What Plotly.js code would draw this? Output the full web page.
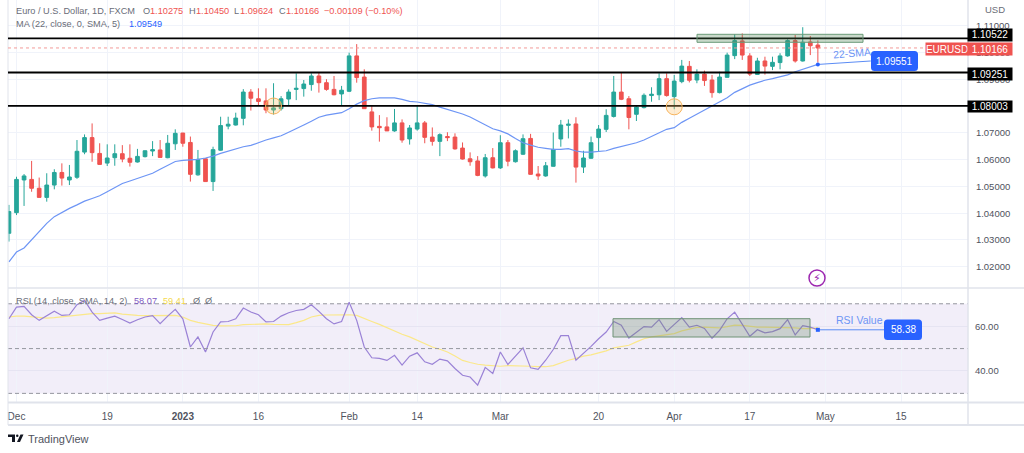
<!DOCTYPE html>
<html><head><meta charset="utf-8">
<script src="https://cdn.plot.ly/plotly-3.0.1.min.js"></script>
<style>html,body{margin:0;padding:0;background:#fff}#c{width:1024px;height:453px}</style>
</head><body><div id="c"></div>
<script>
const opens=[1.0325,1.0402,1.0524,1.0526,1.0493,1.0459,1.0505,1.0552,1.0524,1.0534,1.0628,1.0682,1.0623,1.0587,1.0607,1.0622,1.0605,1.0591,1.0611,1.0632,1.0636,1.0607,1.0659,1.0699,1.0664,1.0543,1.0603,1.0518,1.0635,1.0725,1.0729,1.0754,1.0852,1.0827,1.0819,1.0785,1.0790,1.0826,1.0862,1.0865,1.0880,1.0912,1.0887,1.0862,1.0845,1.0855,1.0987,1.0908,1.0778,1.0724,1.0722,1.0707,1.0737,1.0677,1.0714,1.0737,1.0684,1.0668,1.0686,1.0684,1.0643,1.0603,1.0595,1.0539,1.0607,1.0569,1.0663,1.0592,1.0620,1.0679,1.0546,1.0539,1.0575,1.0677,1.0728,1.0733,1.0572,1.0605,1.0682,1.0713,1.0761,1.0852,1.0827,1.0769,1.0794,1.0839,1.0842,1.0902,1.0835,1.0891,1.0948,1.0897,1.0919,1.0897,1.0850,1.0907,1.0988,1.1043,1.0987,1.0918,1.0968,1.0948,1.0962,1.0987,1.1044,1.0968,1.1039,1.10275];
const highs=[1.0431,1.0536,1.0546,1.0595,1.0533,1.0549,1.0564,1.0586,1.0580,1.0673,1.0694,1.0735,1.0661,1.0657,1.0657,1.0654,1.0657,1.0640,1.0634,1.0669,1.0673,1.0692,1.0713,1.0700,1.0686,1.0636,1.0605,1.0648,1.0760,1.0760,1.0775,1.0863,1.0863,1.0866,1.0866,1.0885,1.0837,1.0862,1.0922,1.0897,1.0922,1.0927,1.0900,1.0912,1.0875,1.0999,1.1031,1.0937,1.0800,1.0766,1.0758,1.0789,1.0750,1.0729,1.0800,1.0744,1.0720,1.0698,1.0702,1.0698,1.0664,1.0627,1.0613,1.0621,1.0643,1.0691,1.0673,1.0638,1.0694,1.0696,1.0576,1.0591,1.0701,1.0748,1.0750,1.0758,1.0633,1.0686,1.0729,1.0788,1.0912,1.0926,1.0837,1.0800,1.0847,1.0870,1.0922,1.0922,1.0916,1.0972,1.0968,1.0937,1.0932,1.0916,1.0928,1.0999,1.1068,1.1071,1.0997,1.0980,1.0984,1.0984,1.0997,1.1049,1.1065,1.1094,1.1061,1.1045];
const lows=[1.0294,1.0393,1.0427,1.0480,1.0459,1.0443,1.0489,1.0503,1.0505,1.0528,1.0620,1.0592,1.0580,1.0576,1.0577,1.0590,1.0574,1.0589,1.0608,1.0613,1.0608,1.0605,1.0636,1.0648,1.0518,1.0540,1.0518,1.0483,1.0633,1.0713,1.0727,1.0728,1.0783,1.0800,1.0773,1.0768,1.0783,1.0801,1.0822,1.0835,1.0857,1.0850,1.0857,1.0840,1.0800,1.0852,1.0887,1.0790,1.0708,1.0667,1.0707,1.0704,1.0663,1.0656,1.0708,1.0661,1.0652,1.0613,1.0669,1.0637,1.0600,1.0577,1.0538,1.0533,1.0567,1.0565,1.0575,1.0589,1.0617,1.0544,1.0524,1.0536,1.0574,1.0648,1.0679,1.0514,1.0550,1.0603,1.0630,1.0703,1.0757,1.0822,1.0713,1.0744,1.0791,1.0816,1.0822,1.0835,1.0788,1.0885,1.0888,1.0885,1.0875,1.0831,1.0847,1.0906,1.0975,1.0972,1.0912,1.0916,1.0917,1.0934,1.0937,1.0984,1.0962,1.0966,1.0990,1.09624];
const closes=[1.0406,1.0526,1.0539,1.0493,1.0459,1.0505,1.0552,1.0531,1.0535,1.0631,1.0682,1.0626,1.0582,1.0606,1.0622,1.0602,1.0590,1.0612,1.0633,1.0637,1.0608,1.0661,1.0698,1.0661,1.0545,1.0601,1.0518,1.0637,1.0727,1.0732,1.0755,1.0852,1.0829,1.0817,1.0785,1.0793,1.0827,1.0852,1.0866,1.0882,1.0912,1.0887,1.0862,1.0842,1.0859,1.0987,1.0906,1.0790,1.0722,1.0719,1.0707,1.0737,1.0673,1.0718,1.0737,1.0683,1.0668,1.0693,1.0682,1.0640,1.0602,1.0592,1.0541,1.0607,1.0569,1.0663,1.0594,1.0633,1.0678,1.0545,1.0539,1.0577,1.0638,1.0729,1.0732,1.0572,1.0606,1.0663,1.0714,1.0765,1.0852,1.0825,1.0757,1.0796,1.0840,1.0844,1.0902,1.0839,1.0893,1.0949,1.0896,1.0919,1.0895,1.0850,1.0908,1.0990,1.1044,1.0990,1.0919,1.0968,1.0949,1.0963,1.0987,1.1044,1.0968,1.1038,1.1025,1.10166];
const sma22=[1.0218,1.0255,1.0270,1.0300,1.0330,1.0362,1.0387,1.0403,1.0418,1.0431,1.0445,1.0455,1.0465,1.0480,1.0496,1.0511,1.0520,1.0530,1.0539,1.0549,1.0564,1.0580,1.0593,1.0597,1.0598,1.0601,1.0606,1.0613,1.0623,1.0632,1.0641,1.0648,1.0653,1.0664,1.0673,1.0681,1.0689,1.0702,1.0714,1.0729,1.0743,1.0758,1.0766,1.0770,1.0775,1.0790,1.0807,1.0820,1.0827,1.0830,1.0830,1.0830,1.0825,1.0817,1.0815,1.0811,1.0805,1.0796,1.0788,1.0779,1.0770,1.0759,1.0745,1.0728,1.0715,1.0707,1.0696,1.0679,1.0663,1.0654,1.0646,1.0642,1.0638,1.0638,1.0641,1.0632,1.0628,1.0628,1.0630,1.0633,1.0642,1.0649,1.0656,1.0663,1.0673,1.0686,1.0699,1.0713,1.0719,1.0739,1.0754,1.0769,1.0784,1.0798,1.0816,1.0831,1.0851,1.0866,1.0878,1.0887,1.0896,1.0902,1.0909,1.0916,1.0928,1.0938,1.0948,1.09551];
const rsi=[63.3,68.5,68.8,65.1,62.6,64.5,66.7,64.8,65.1,69.6,71.5,66.3,62.6,63.6,64.5,63.0,61.4,62.9,64.1,64.7,61.1,64.5,67.5,63.3,50.7,55.2,48.5,57.4,61.9,62.1,63.3,68.1,66.3,65.1,61.9,62.1,64.5,66.0,67.0,67.5,69.6,66.6,63.3,61.0,62.1,70.7,62.6,50.7,45.9,45.6,44.7,47.0,42.6,46.6,48.1,44.1,43.0,45.3,44.5,41.1,38.1,37.3,33.7,41.6,38.9,48.5,42.9,46.6,50.3,41.4,40.7,44.8,49.6,55.8,55.8,44.8,47.8,51.0,54.4,57.4,62.1,60.4,54.7,57.1,59.8,59.6,62.9,57.7,60.7,63.8,59.6,60.4,59.0,54.6,58.1,63.3,66.3,61.1,55.5,58.4,57.0,57.6,58.9,62.9,56.1,60.2,59.6,58.38];
const rsiMa=[64.1,64.5,64.5,64.1,63.8,63.6,63.8,64.2,64.5,64.8,65.4,65.6,65.6,65.7,65.9,65.4,65.0,64.8,64.7,64.7,64.7,64.7,64.8,64.1,62.6,61.7,61.0,60.4,60.1,60.1,60.2,60.7,60.8,61.0,61.0,60.8,60.7,60.7,61.6,62.6,64.1,64.8,65.0,65.1,65.1,65.1,64.8,63.3,62.1,60.8,59.3,57.9,56.4,55.2,53.7,52.1,50.7,49.7,48.5,46.7,44.7,43.8,43.0,42.6,42.3,42.1,42.4,42.4,42.3,42.1,41.9,41.9,42.4,43.6,44.8,45.6,46.6,47.2,48.1,49.0,50.3,51.0,51.5,53.0,54.4,55.2,55.8,56.1,56.7,57.9,58.7,59.5,59.6,59.3,59.2,59.8,60.5,60.4,59.9,59.6,59.6,59.5,59.3,59.5,59.2,58.9,58.9,59.4];
const timeTickVals=[0,12,22,32,44,53,64,77,87,97,107,117];
const timeTickText=["Dec","19","<b>2023</b>","16","Feb","14","Mar","20","Apr","17","May","15"];
const priceTicks=[1.02,1.03,1.04,1.05,1.06,1.07,1.08,1.09,1.10,1.11];
const priceTickText=["1.02000","1.03000","1.04000","1.05000","1.06000","1.07000","","1.09000","1.10000","1.11000"];
const rsiTicks=[40,60];
const levels=[1.10522,1.09251,1.08003];
const lastClose=1.10166, smaLast=1.09551, rsiLast=58.38;

const xs=opens.map((_,i)=>i-1);
const W=1024,H=453,L=8,R=968,B=402,MID=288;
const px=v=>(v-L)/(R-L), py=v=>(B-v)/B;
const xRange=[-1.124,125.86];
const GREEN='#26a69a',RED='#ef5350',BLUE='#5b8cf5',TAG='#2962ff',GRID='#f0f3fa',EDGE='#e0e3eb',TXT='#6a6d78';
const FONT='"Liberation Sans",Arial,sans-serif';

const traces=[
 {type:'candlestick',x:xs,open:opens,high:highs,low:lows,close:closes,xaxis:'x',yaxis:'y',whiskerwidth:0,
  increasing:{line:{color:GREEN,width:1},fillcolor:GREEN},decreasing:{line:{color:RED,width:1},fillcolor:RED},hoverinfo:'skip',showlegend:false},
 {type:'scatter',mode:'lines',x:xs,y:sma22,xaxis:'x',yaxis:'y',line:{color:'#6d95f5',width:1.2},hoverinfo:'skip',showlegend:false},
 {type:'scatter',mode:'lines',x:xs,y:rsiMa,xaxis:'x2',yaxis:'y2',line:{color:'#fbe88a',width:1.2},hoverinfo:'skip',showlegend:false},
 {type:'scatter',mode:'lines',x:xs,y:rsi,xaxis:'x2',yaxis:'y2',line:{color:'#9a82d6',width:1.2},hoverinfo:'skip',showlegend:false},
];

const paperLine=(x0,y0,x1,y1,c,w,d)=>({type:'line',xref:'paper',yref:'paper',x0:px(x0),x1:px(x1),y0:py(y0),y1:py(y1),line:{color:c,width:w,dash:d||'solid'}});
const bubble=(x0,x1,y0,y1,r,c)=>({type:'path',xref:'paper',yref:'paper',fillcolor:c,line:{width:0},
 path:`M${px(x0+r)} ${py(y0)} L${px(x1-r)} ${py(y0)} Q${px(x1)} ${py(y0)} ${px(x1)} ${py(y0+r)} L${px(x1)} ${py(y1-r)} Q${px(x1)} ${py(y1)} ${px(x1-r)} ${py(y1)} L${px(x0+r)} ${py(y1)} Q${px(x0)} ${py(y1)} ${px(x0)} ${py(y1-r)} L${px(x0)} ${py(y0+r)} Q${px(x0)} ${py(y0)} ${px(x0+r)} ${py(y0)} Z`});
const shapes=[
 {type:'rect',xref:'x2',yref:'y2',x0:xRange[0],x1:xRange[1],y0:30,y1:70,fillcolor:'rgba(126,87,194,0.10)',line:{width:0},layer:'below'},
 ...[70,50,30].map(v=>({type:'line',xref:'x2',yref:'y2',x0:xRange[0],x1:xRange[1],y0:v,y1:v,line:{color:'#95979f',width:1,dash:'4px,3px'}})),
 paperLine(8,0,8,425,EDGE,1),paperLine(968,0,968,425,EDGE,1.5),paperLine(8,288,1024,288,EDGE,1.5),paperLine(8,402.5,1024,402.5,EDGE,2),paperLine(8,425,1024,425,EDGE,2),
 {type:'line',xref:'x',yref:'y',x0:xRange[0],x1:xRange[1],y0:lastClose,y1:lastClose,line:{color:'#f39a98',width:1,dash:'dot'}},
 ...levels.map(v=>({type:'line',xref:'x',yref:'y',x0:xRange[0],x1:xRange[1],y0:v,y1:v,line:{color:'#000',width:1.8}})),
 {type:'rect',xref:'paper',yref:'paper',x0:px(697),x1:px(863),y0:py(34.3),y1:py(42.3),fillcolor:'rgba(76,130,80,0.30)',line:{color:'#6b9a78',width:1}},
 {type:'rect',xref:'paper',yref:'paper',x0:px(613),x1:px(810),y0:py(318.7),y1:py(337),fillcolor:'rgba(105,135,105,0.30)',line:{color:'#6f9277',width:1}},
 ...[[34,1.08],[87,1.0797]].map(c=>({type:'circle',xref:'x',yref:'y',xsizemode:'pixel',ysizemode:'pixel',xanchor:c[0],yanchor:c[1],x0:-8,x1:8,y0:-8,y1:8,fillcolor:'rgba(255,193,100,0.30)',line:{color:'#f7b35c',width:1}})),
 {type:'line',xref:'x',yref:'y',x0:106,x1:113,y0:smaLast,y1:1.0968,line:{color:BLUE,width:1}},
 {type:'circle',xref:'x',yref:'y',xsizemode:'pixel',ysizemode:'pixel',xanchor:106,yanchor:smaLast,x0:-2,x1:2,y0:-2,y1:2,fillcolor:TAG,line:{width:0}},
 {type:'line',xref:'x2',yref:'y2',x0:106,x1:115,y0:rsiLast,y1:rsiLast,line:{color:BLUE,width:1}},
 {type:'rect',xref:'x2',yref:'y2',xsizemode:'pixel',ysizemode:'pixel',xanchor:106,yanchor:rsiLast,x0:-2,x1:2,y0:-2,y1:2,fillcolor:TAG,line:{width:0}},
 bubble(871,918,51,71,3.5,TAG),
 bubble(884,922,319.5,340,3.5,TAG),
 {type:'circle',xref:'paper',yref:'paper',x0:px(809),x1:px(825),y0:py(270),y1:py(286),fillcolor:'#fff',line:{color:'#9c27b0',width:1.5}},
 // TradingView mark
 {type:'rect',xref:'paper',yref:'paper',x0:px(8),x1:px(15),y0:py(434.5),y1:py(437),fillcolor:'#131722',line:{width:0}},
 {type:'rect',xref:'paper',yref:'paper',x0:px(12),x1:px(15),y0:py(437),y1:py(442),fillcolor:'#131722',line:{width:0}},
 {type:'circle',xref:'paper',yref:'paper',x0:px(16),x1:px(18.5),y0:py(434.5),y1:py(437),fillcolor:'#131722',line:{width:0}},
 {type:'path',xref:'paper',yref:'paper',path:`M${px(20.5)} ${py(434.5)} L${px(23.5)} ${py(434.5)} L${px(20)} ${py(442)} L${px(17)} ${py(442)} Z`,fillcolor:'#131722',line:{width:0}},
];

const note=(x,y,text,opt)=>Object.assign({xref:'paper',yref:'paper',x:px(x),y:py(y),text:text,showarrow:false,xanchor:'left',yanchor:'middle',borderpad:0,font:{family:FONT,size:9.2,color:TXT}},opt||{});
const tag=(x0,x1,y0,y1,text,bg)=>note((x0+x1)/2,(y0+y1)/2,text,{xanchor:'center',width:x1-x0,height:y1-y0,bgcolor:bg,align:'center',valign:'middle',font:{family:FONT,size:10,color:'#fff'}});
const label=(x,y,text,color,size)=>note(x,y,text,{font:{family:FONT,size:size||9.2,color:color}});
const annotations=[
 note(984,9.5,'USD',{font:{family:FONT,size:9.5,color:'#6a6d78'}}),
 note(14.5,10.5,'Euro / U.S. Dollar, 1D, FXCM'),
 label(142,10.5,'O',TXT),label(149,10.5,'1.10275',RED),
 label(188,10.5,'H',TXT),label(195,10.5,'1.10450',RED),
 label(233,10.5,'L',TXT),label(239,10.5,'1.09624',RED),
 label(278,10.5,'C',TXT),label(285,10.5,'1.10166',RED),
 label(323,10.5,'−0.00109 (−0.10%)',RED),
 note(14.5,23.5,'MA (22, close, 0, SMA, 5)'),
 label(128,23.5,'1.09549','#2962ff'),
 note(14.5,300.5,'RSI (14, close, SMA, 14, 2)'),
 label(133,300.5,'58.07','#7e57c2'),label(162,300.5,'59.41','#f5d94e'),
 label(192,300.5,'Ø',TXT),label(204,300.5,'Ø',TXT),
 tag(968,1012,29.5,41,'1.10522','#000'),
 tag(926,968,43,55,'EURUSD',RED),
 tag(968,1012,43,55,'1.10166',RED),
 tag(968,1012,68,80,'1.09251','#000'),
 tag(968,1012,101,112,'1.08003','#000'),
 note(894.5,61,'1.09551',{xanchor:'center',font:{family:FONT,size:10,color:'#fff'}}),
 note(903,329.7,'58.38',{xanchor:'center',font:{family:FONT,size:10,color:'#fff'}}),
 note(831,53,'22-SMA',{textangle:-5,font:{family:FONT,size:10.5,color:'#6d95f5'}}),
 note(835,320,'RSI Value',{font:{family:FONT,size:10.5,color:'#6d95f5'}}),
 note(817,278,'⚡',{xanchor:'center',font:{family:'"DejaVu Sans"',size:11,color:'#9c27b0'}}),
 note(27,438.5,'TradingView',{font:{family:FONT,size:11,color:'#50535e'}}),
];

const axisX=(extra)=>Object.assign({range:xRange,domain:[0,1],tickvals:timeTickVals,ticktext:timeTickText,showgrid:true,gridcolor:GRID,gridwidth:1,zeroline:false,showline:false,rangeslider:{visible:false},fixedrange:true},extra);
const layout={
 width:W,height:H,paper_bgcolor:'#fff',plot_bgcolor:'#fff',showlegend:false,
 margin:{l:L,r:W-R,t:0,b:H-B,pad:0},
 xaxis:axisX({anchor:'y',showticklabels:false,ticks:''}),
 xaxis2:axisX({anchor:'y2',ticks:'outside',ticklen:5,tickcolor:'rgba(0,0,0,0)',tickfont:{family:FONT,size:10,color:'#50535e'}}),
 yaxis:{domain:[py(MID),1],range:[1.01208,1.11956],side:'right',anchor:'x',tickvals:priceTicks,ticktext:priceTickText,showgrid:true,gridcolor:GRID,zeroline:false,showline:false,ticks:'outside',ticklen:5,tickcolor:'rgba(0,0,0,0)',tickfont:{family:FONT,size:9.5,color:'#50535e'},fixedrange:true},
 yaxis2:{domain:[0,py(MID+1)],range:[26.15,76.6],side:'right',anchor:'x2',tickvals:rsiTicks,tickformat:'.2f',showgrid:true,gridcolor:'#e6e4f2',zeroline:false,showline:false,ticks:'outside',ticklen:4,tickcolor:'rgba(0,0,0,0)',tickfont:{family:FONT,size:9.5,color:'#50535e'},fixedrange:true},
 shapes,annotations,
};
Plotly.newPlot('c',traces,layout,{staticPlot:true,displayModeBar:false});
</script></body></html>
